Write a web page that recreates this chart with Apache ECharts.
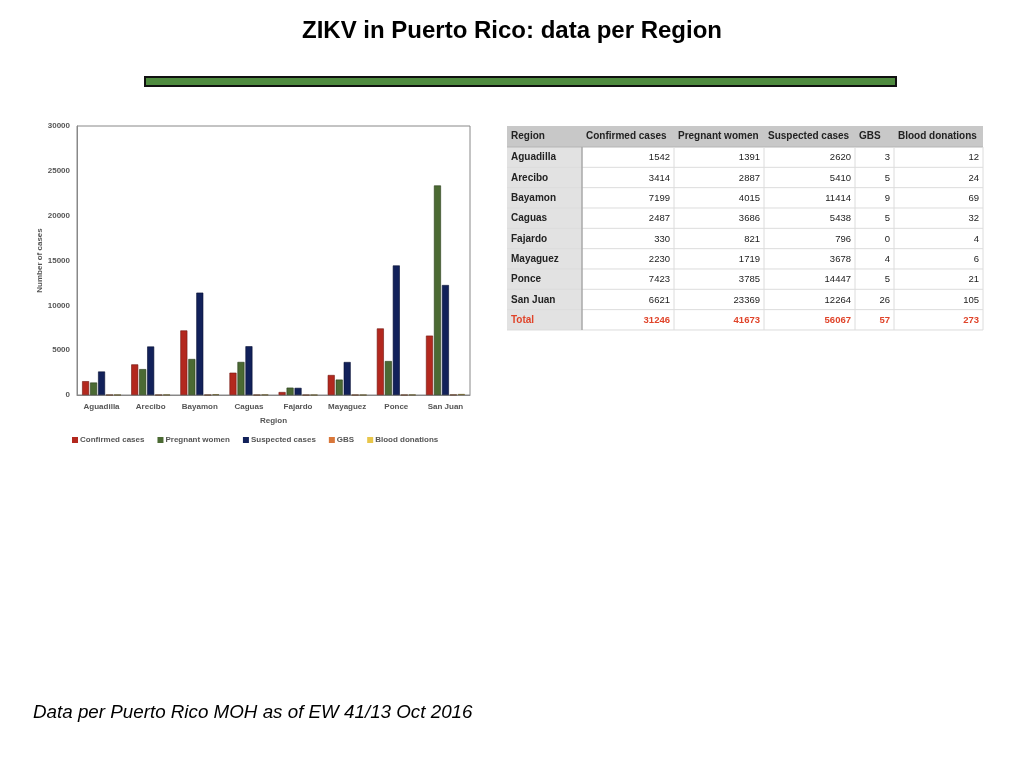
<!DOCTYPE html>
<html><head><meta charset="utf-8">
<script src="https://cdn.jsdelivr.net/npm/echarts@6/dist/echarts.min.js"></script>
<style>html,body{margin:0;padding:0;background:#fff}#c{width:1024px;height:768px}</style>
</head><body><div id="c"></div>
<script>
const regions = ['Aguadilla','Arecibo','Bayamon','Caguas','Fajardo','Mayaguez','Ponce','San Juan'];
const confirmed = [1542,3414,7199,2487,330,2230,7423,6621];
const pregnant = [1391,2887,4015,3686,821,1719,3785,23369];
const suspected = [2620,5410,11414,5438,796,3678,14447,12264];
const gbs = [3,5,9,5,0,4,5,26];
const blood = [12,24,69,32,4,6,21,105];
const totals = [31246,41673,56067,57,273];
const headers = ['Region','Confirmed cases','Pregnant women','Suspected cases','GBS','Blood donations'];
const seriesNames = ['Confirmed cases','Pregnant women','Suspected cases','GBS','Blood donations'];
const seriesData = [confirmed, pregnant, suspected, gbs, blood];
const colors = ['#B3281E','#4B6A33','#12215A','#D9773A','#E8C64A'];
const borders = ['#6E140E','#263A18','#060F33','#5A3018','#5A4F1E'];

const FONT = '"Liberation Sans", Arial, sans-serif';

// table layout
const colEdges = [507,582,674,764,855,894,983];
const headTop = 126, headH = 21, rowH = 20.33;
const tbl = [];
const nRows = regions.length + 1;
const bodyTop = headTop + headH;
const bodyBottom = bodyTop + nRows*rowH;
tbl.push({type:'rect', shape:{x:colEdges[0], y:headTop, width:colEdges[6]-colEdges[0], height:headH}, style:{fill:'#C8C8C8'}});
tbl.push({type:'rect', shape:{x:colEdges[0], y:bodyTop, width:colEdges[1]-colEdges[0], height:nRows*rowH}, style:{fill:'#E2E2E2'}});
for (let r=0;r<=nRows;r++){
  const y = bodyTop + r*rowH;
  tbl.push({type:'line', shape:{x1:colEdges[0], y1:y, x2:colEdges[6], y2:y}, style:{stroke:r===0?'#B5B5B5':'#DCDCDC', lineWidth:1}});
}
for (let c=2;c<=6;c++){
  tbl.push({type:'line', shape:{x1:colEdges[c], y1:bodyTop, x2:colEdges[c], y2:bodyBottom}, style:{stroke:'#DCDCDC', lineWidth:1}});
}
tbl.push({type:'line', shape:{x1:colEdges[1], y1:bodyTop, x2:colEdges[1], y2:bodyBottom}, style:{stroke:'#A8A8A8', lineWidth:1.5}});
headers.forEach((h,i)=>{
  tbl.push({type:'text', x:colEdges[i]+4, y:headTop+headH/2, style:{text:h, font:'bold 10px '+FONT, fill:'#222', verticalAlign:'middle', align:'left'}});
});
const rowsAll = regions.map((reg,i)=>[reg, confirmed[i], pregnant[i], suspected[i], gbs[i], blood[i]]);
rowsAll.push(['Total'].concat(totals));
rowsAll.forEach((row,r)=>{
  const isTotal = r===rowsAll.length-1;
  const yc = bodyTop + r*rowH + rowH/2 + 0.5;
  const col = isTotal ? '#E0442A' : '#222';
  tbl.push({type:'text', x:colEdges[0]+4, y:yc, style:{text:row[0], font:'bold 10px '+FONT, fill:col, verticalAlign:'middle', align:'left'}});
  for (let c=1;c<6;c++){
    tbl.push({type:'text', x:colEdges[c+1]-4, y:yc, style:{text:String(row[c]), font:(isTotal?'bold ':'')+'9.5px '+FONT, fill:col, verticalAlign:'middle', align:'right'}});
  }
});

const chart = echarts.init(document.getElementById('c'));
chart.setOption({
  animation:false,
  backgroundColor:'#fff',
  title:[{text:'ZIKV in Puerto Rico: data per Region', left:'center', top:14,
    textStyle:{fontFamily:'"Liberation Sans Narrow", "Liberation Sans", Arial', fontWeight:'bold', fontSize:24, color:'#000'}}],
  graphic:[
    {type:'rect', shape:{x:145, y:77, width:751, height:9}, style:{fill:'#4F8B3F', stroke:'#111', lineWidth:2}},
    {type:'text', left:33, top:703, style:{text:'Data per Puerto Rico MOH as of EW 41/13 Oct 2016', font:'italic 18.8px '+FONT, fill:'#000'}},
    {type:'group', children:tbl}
  ],
  legend:{left:72, top:436, padding:0, itemWidth:6, itemHeight:6, itemGap:13, icon:'rect',
    itemStyle:{borderWidth:0},
    textStyle:{fontFamily:FONT, fontSize:8, fontWeight:'bold', color:'#555', padding:[0,0,0,-3]},
    data:seriesNames},
  grid:{left:77, right:554, top:126, bottom:373, show:true, borderColor:'#888', borderWidth:1, backgroundColor:'transparent'},
  xAxis:{type:'category', data:regions, name:'Region', nameLocation:'middle', nameGap:22,
    nameTextStyle:{fontFamily:FONT, fontSize:8, fontWeight:'bold', color:'#555'},
    axisLine:{lineStyle:{color:'#888'}}, axisTick:{show:false},
    axisLabel:{interval:0, fontFamily:FONT, fontSize:8, fontWeight:'bold', color:'#555', margin:8}},
  yAxis:{type:'value', min:0, max:30000, interval:5000, name:'Number of cases', nameLocation:'middle', nameGap:33,
    nameTextStyle:{fontFamily:FONT, fontSize:8, fontWeight:'bold', color:'#555'},
    splitLine:{show:false}, axisLine:{show:true, lineStyle:{color:'#888'}}, axisTick:{show:false},
    axisLabel:{formatter:(v)=>String(v), fontFamily:FONT, fontSize:8, fontWeight:'bold', color:'#555', margin:7}},
  series: seriesNames.map((n,i)=>({
    name:n, type:'bar', data:seriesData[i], barWidth:7, barGap:'14%',
    itemStyle:{color:colors[i], borderColor:borders[i], borderWidth:0.6}
  }))
});
</script></body></html>
